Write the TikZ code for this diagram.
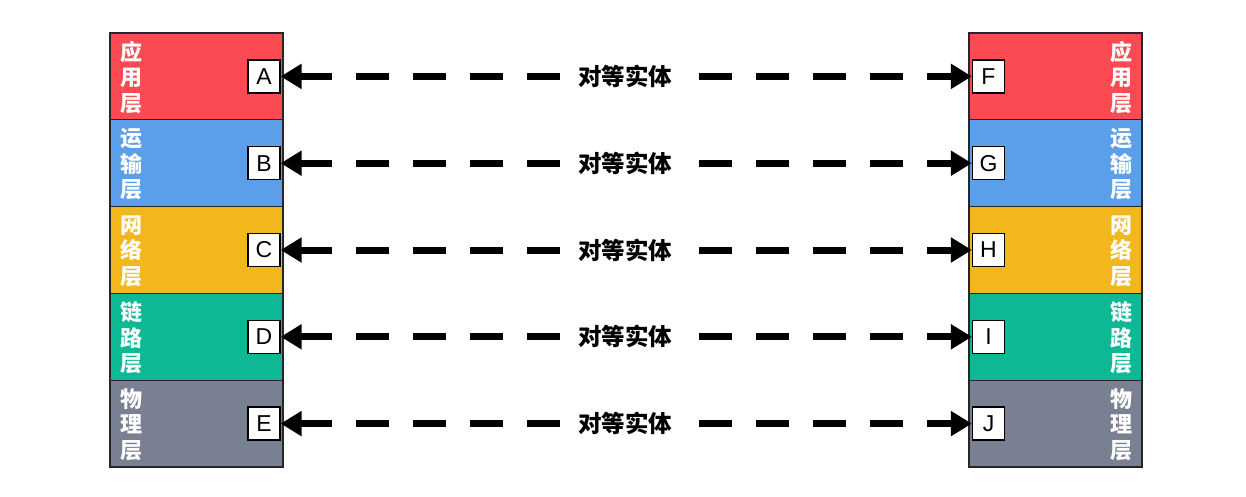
\documentclass[tikz,border=0pt]{standalone}
\usepackage{fontspec}
\setmainfont{Liberation Sans}
\newfontfamily\cjk{Noto Sans CJK SC}
\usetikzlibrary{arrows.meta}
\definecolor{cred}{HTML}{FB4A52}
\definecolor{cblue}{HTML}{5B9EE9}
\definecolor{cyellow}{HTML}{F3B71E}
\definecolor{cgreen}{HTML}{0DB894}
\definecolor{cgray}{HTML}{798092}
\begin{document}
\begin{tikzpicture}[x=1pt,y=-1pt,
  layerbox/.style={draw=black!85, line width=1.3pt, minimum width=173pt, minimum height=86.8pt, inner sep=0pt, outer sep=0pt},
  tag/.style={draw=black, fill=white, line width=1.3pt, minimum width=32pt, minimum height=33pt, inner sep=0pt, font=\fontsize{23}{23}\selectfont},
  lname/.style={text=white, font=\cjk\bfseries\fontsize{22}{25.5}\selectfont, align=center, inner sep=0pt},
  peer/.style={font=\cjk\bfseries\fontsize{23.5}{23.5}\selectfont, inner sep=0pt},
  link/.style={line width=7pt, dash pattern=on 33pt off 24pt, -{Triangle[length=21pt,width=24pt]}}]
\useasboundingbox (0,0) rectangle (1246,496);
\foreach \col/\ta/\tb/\nm [count=\k from 0] in
  {cred/A/F/{应\\用\\层}, cblue/B/G/{运\\输\\层}, cyellow/C/H/{网\\络\\层}, cgreen/D/I/{链\\路\\层}, cgray/E/J/{物\\理\\层}}{
  \pgfmathsetmacro{\yc}{76.4+86.8*\k}
  \node[layerbox, fill=\col] (L\k) at (196.5,\yc) {};
  \node[layerbox, fill=\col] (R\k) at (1055.5,\yc) {};
  \node[lname] (LN\k) at (131,\yc+1) {\nm};
  \node[lname] (RN\k) at (1121,\yc+1) {\nm};
  \node[tag] (\ta) at (264,\yc) {\ta};
  \node[tag] (\tb) at (988.5,\yc) {\tb};
  \node[peer] (P\k) at (625,\yc) {对等实体};
  \draw[link, shorten <=18pt] (P\k.west) -- (\ta.east);
  \draw[link, shorten <=27pt] (P\k.east) -- (\tb.west);
}
\end{tikzpicture}
\end{document}
